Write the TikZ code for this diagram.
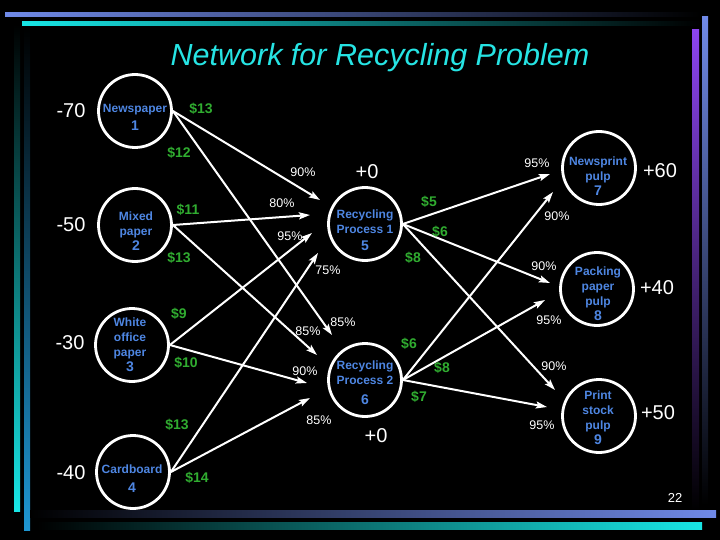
\documentclass[tikz,border=0pt]{standalone}
\usepackage{fontspec}
\setmainfont{Liberation Sans}
\usetikzlibrary{arrows.meta}
\definecolor{nodeblue}{RGB}{78,134,226}
\definecolor{costgreen}{RGB}{48,172,48}
\definecolor{titlecyan}{RGB}{38,228,228}
\definecolor{barblue}{RGB}{112,138,232}
\definecolor{barcyan}{RGB}{24,230,230}
\definecolor{sideblue}{RGB}{30,150,210}
\definecolor{sidepurple}{RGB}{140,68,240}
\tikzset{
  procnode/.style={circle, draw=white, line width=2.8pt, minimum size=73pt, inner sep=0pt},
  intext/.style={text=nodeblue, font=\bfseries\fontsize{12}{15}\selectfont, align=center, inner sep=0pt},
  cost/.style={text=costgreen, font=\bfseries\fontsize{14}{16}\selectfont, inner sep=0pt},
  pct/.style={text=white, font=\fontsize{12.5}{14}\selectfont, inner sep=0pt},
  supply/.style={text=white, font=\fontsize{20}{22}\selectfont, inner sep=0pt},
  conn/.style={draw=white, line width=2pt, -{Stealth[length=11pt,width=7pt,inset=2pt]}},
}
\newcommand{\numfont}{\fontsize{14}{17}\selectfont}
\begin{document}
\begin{tikzpicture}[x=1pt,y=-1pt]
\fill[black] (0,0) rectangle (720,540);
\useasboundingbox (0,0) rectangle (720,540);
% decorative bars
\shade[left color=barblue, right color=black] (5,13) rectangle (700,17);
\shade[left color=barcyan, right color=black] (22,22) rectangle (700,26);
\shade[top color=black, bottom color=barcyan] (14,24) rectangle (20,511);
\shade[top color=black, bottom color=sideblue] (24,28) rectangle (30,530);
\shade[top color=sidepurple, bottom color=black] (692,30) rectangle (699,510);
\shade[top color=barblue, bottom color=black] (702,17) rectangle (708,505);
\shade[left color=black, right color=barblue] (30,510) rectangle (716,517);
\shade[left color=black, right color=barcyan] (37,522) rectangle (702,529);
% title
\node[text=titlecyan, font=\itshape\fontsize{30.5}{34}\selectfont, inner sep=0pt] (title) at (380,58) {Network for Recycling Problem};
% circles
\node[procnode] (n1) at (135,111) {};
\node[procnode] (n2) at (135,225) {};
\node[procnode] (n3) at (132,345) {};
\node[procnode] (n4) at (133,472) {};
\node[procnode] (n5) at (365,224) {};
\node[procnode] (n6) at (365,380) {};
\node[procnode] (n7) at (599,168) {};
\node[procnode] (n8) at (597,289) {};
\node[procnode] (n9) at (599,416) {};
% circle texts
\node[intext] (n1t) at (135,117) {Newspaper\\[3pt]{\numfont 1}};
\node[intext] (n2t) at (136,231) {Mixed\\paper\\{\numfont 2}};
\node[intext] (n3t) at (130,345) {White\\office\\paper\\{\numfont 3}};
\node[intext] (n4t) at (132,479) {Cardboard\\[4pt]{\numfont 4}};
\node[intext] (n5t) at (365,230) {Recycling\\Process 1\\[2pt]{\numfont 5}};
\node[intext] (n6t) at (365,383) {Recycling\\Process 2\\[5pt]{\numfont 6}};
\node[intext] (n7t) at (598,176) {Newsprint\\pulp\\{\numfont 7}};
\node[intext] (n8t) at (598,294) {Packing\\paper\\pulp\\{\numfont 8}};
\node[intext] (n9t) at (598,418) {Print\\stock\\pulp\\{\numfont 9}};
% supplies and demands
\node[supply] (s1) at (71,111) {-70};
\node[supply] (s2) at (71,225) {-50};
\node[supply] (s3) at (70,343) {-30};
\node[supply] (s4) at (71,473) {-40};
\node[supply] (s5) at (367,172) {+0};
\node[supply] (s6) at (376,436) {+0};
\node[supply] (s7) at (660,171) {+60};
\node[supply] (s8) at (657,288) {+40};
\node[supply] (s9) at (658,413) {+50};
% arrow tips
\coordinate (t15) at (320,200);
\coordinate (t16) at (332,335);
\coordinate (t25) at (310,215);
\coordinate (t26) at (317,355);
\coordinate (t35) at (312,233);
\coordinate (t36) at (307,383);
\coordinate (t45) at (318,253);
\coordinate (t46) at (310,398);
\coordinate (t57) at (550,174);
\coordinate (t58) at (550,283);
\coordinate (t59) at (555,390);
\coordinate (t67) at (553,192);
\coordinate (t68) at (545,300);
\coordinate (t69) at (547,407);
% connectors
\draw[conn] (n1.east) -- (t15);
\draw[conn] (n1.east) -- (t16);
\draw[conn] (n2.east) -- (t25);
\draw[conn] (n2.east) -- (t26);
\draw[conn] (n3.east) -- (t35);
\draw[conn] (n3.east) -- (t36);
\draw[conn] (n4.east) -- (t45);
\draw[conn] (n4.east) -- (t46);
\draw[conn] (n5.east) -- (t57);
\draw[conn] (n5.east) -- (t58);
\draw[conn] (n5.east) -- (t59);
\draw[conn] (n6.east) -- (t67);
\draw[conn] (n6.east) -- (t68);
\draw[conn] (n6.east) -- (t69);
% costs
\node[cost] (c15) at (201,109) {\$13};
\node[cost] (c16) at (179,153) {\$12};
\node[cost] (c25) at (188,210) {\$11};
\node[cost] (c26) at (179,258) {\$13};
\node[cost] (c35) at (179,314) {\$9};
\node[cost] (c36) at (186,363) {\$10};
\node[cost] (c45) at (177,425) {\$13};
\node[cost] (c46) at (197,478) {\$14};
\node[cost] (c57) at (429,202) {\$5};
\node[cost] (c58) at (440,232) {\$6};
\node[cost] (c59) at (413,258) {\$8};
\node[cost] (c67) at (409,344) {\$6};
\node[cost] (c68) at (442,368) {\$8};
\node[cost] (c69) at (419,397) {\$7};
% yields
\node[pct] (p15) at (303,172) {90\%};
\node[pct] (p25) at (282,203) {80\%};
\node[pct] (p35) at (290,236) {95\%};
\node[pct] (p45) at (328,270) {75\%};
\node[pct] (p26) at (308,331) {85\%};
\node[pct] (p16) at (343,322) {85\%};
\node[pct] (p36) at (305,371) {90\%};
\node[pct] (p46) at (319,420) {85\%};
\node[pct] (p57) at (537,163) {95\%};
\node[pct] (p67) at (557,216) {90\%};
\node[pct] (p58) at (544,266) {90\%};
\node[pct] (p68) at (549,320) {95\%};
\node[pct] (p59) at (554,366) {90\%};
\node[pct] (p69) at (542,425) {95\%};
% page number
\node[text=white, font=\fontsize{13}{15}\selectfont, inner sep=0pt] (pg) at (675,498) {22};
\end{tikzpicture}
\end{document}
